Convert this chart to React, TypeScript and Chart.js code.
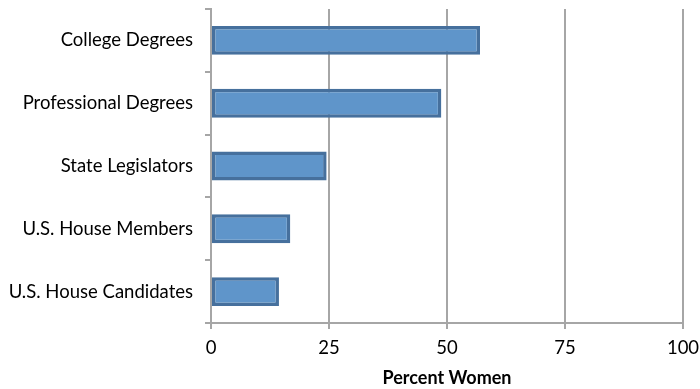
import React, { useEffect, useRef } from "react";
import { Chart, registerables } from "chart.js";

Chart.register(...registerables);

const categories = [
  "College Degrees",
  "Professional Degrees",
  "State Legislators",
  "U.S. House Members",
  "U.S. House Candidates",
];
const percentWomen = [57, 48.8, 24.5, 16.8, 14.4];
const xTicks = [0, 25, 50, 75, 100];

const FONT = "Lato, 'Open Sans', sans-serif";
const GRID = "#a6a6a6";

export default function App() {
  const canvasRef = useRef<HTMLCanvasElement | null>(null);

  useEffect(() => {
    const canvas = canvasRef.current;
    if (!canvas) return;
    const chart = new Chart(canvas, {
      type: "bar",
      data: {
        labels: categories,
        datasets: [
          {
            label: "Percent Women",
            data: percentWomen,
            backgroundColor: "#5f95ca",
            borderColor: "#46709d",
            borderWidth: 3.5,
            borderSkipped: false,
            categoryPercentage: 1,
            barPercentage: 0.46,
          },
        ],
      },
      options: {
        indexAxis: "y",
        animation: false,
        responsive: false,
        maintainAspectRatio: false,
        layout: { padding: { top: 9, right: 17, left: 0, bottom: 0 } },
        plugins: {
          legend: { display: false },
          tooltip: { enabled: false },
        },
        scales: {
          x: {
            min: 0,
            max: 100,
            afterBuildTicks: (scale: any) => {
              scale.ticks = xTicks.map((v) => ({ value: v }));
            },
            afterFit: (scale: any) => {
              scale.height = 66;
              scale.paddingLeft = 0;
              scale.paddingRight = 0;
            },
            grid: {
              color: GRID,
              lineWidth: 2,
              tickLength: 6,
              drawTicks: true,
            },
            border: { color: GRID, width: 2 },
            ticks: {
              color: "#000",
              font: { family: FONT, size: 18.5 },
              padding: 8,
            },
            title: {
              display: true,
              text: "Percent Women",
              color: "#000",
              font: { family: FONT, size: 18, weight: "bold" },
              padding: { top: 9, bottom: 0 },
            },
          },
          y: {
            afterFit: (scale: any) => {
              scale.width = 211;
              scale.paddingTop = 0;
              scale.paddingBottom = 0;
            },
            grid: {
              offset: true,
              drawOnChartArea: false,
              color: GRID,
              lineWidth: 2,
              tickLength: 6,
            },
            border: { color: GRID, width: 2 },
            ticks: {
              color: "#000",
              font: { family: FONT, size: 18.5 },
              padding: 12,
            },
          },
        },
      },
    });
    return () => chart.destroy();
  }, []);

  return (
    <div style={{ position: "fixed", left: 0, top: 0, width: 700, height: 389, background: "#fff" }}>
      <canvas ref={canvasRef} width={700} height={389} style={{ width: 700, height: 389 }} />
    </div>
  );
}
